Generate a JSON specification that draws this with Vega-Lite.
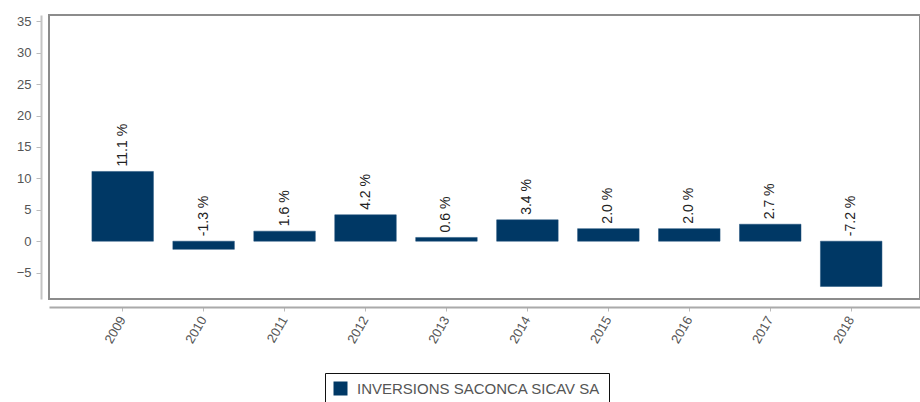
{
  "$schema": "https://vega.github.io/schema/vega-lite/v6.json",
  "autosize": {"type": "none"},
  "padding": {"left": 49, "top": 15, "right": 0, "bottom": 103},
  "width": 871,
  "height": 284,
  "background": "white",
  "config": {
    "view": {"stroke": "#8c8c8c", "strokeWidth": 2},
    "font": "Liberation Sans"
  },
  "data": {
    "values": [
      {"year": "2009", "v": 11.1, "label": "11.1 %"},
      {"year": "2010", "v": -1.3, "label": "-1.3 %"},
      {"year": "2011", "v": 1.6, "label": "1.6 %"},
      {"year": "2012", "v": 4.2, "label": "4.2 %"},
      {"year": "2013", "v": 0.6, "label": "0.6 %"},
      {"year": "2014", "v": 3.4, "label": "3.4 %"},
      {"year": "2015", "v": 2.0, "label": "2.0 %"},
      {"year": "2016", "v": 2.0, "label": "2.0 %"},
      {"year": "2017", "v": 2.7, "label": "2.7 %"},
      {"year": "2018", "v": -7.2, "label": "-7.2 %"}
    ]
  },
  "encoding": {
    "x": {
      "field": "year",
      "type": "nominal",
      "sort": null,
      "scale": {"paddingInner": 0.24, "paddingOuter": 0.5, "align": 0.53},
      "axis": {
        "title": null,
        "offset": 8,
        "labelAngle": -60,
        "labelFontSize": 13,
        "labelColor": "#555555",
        "labelPadding": 6,
        "domainColor": "#aaaaaa",
        "domainWidth": 2,
        "tickColor": "#bbbbbb",
        "tickSize": 4
      }
    }
  },
  "layer": [
    {
      "mark": {"type": "bar", "stroke": "#1d4f7a", "strokeWidth": 0.5},
      "encoding": {
        "y": {
          "field": "v",
          "type": "quantitative",
          "scale": {"domain": [-9.2, 36], "nice": false, "zero": false},
          "axis": {
            "title": null,
            "offset": 8,
            "values": [-5, 0, 5, 10, 15, 20, 25, 30, 35],
            "tickCount": 20,
            "labelOverlap": false,
            "labelFlush": false,
            "grid": false,
            "labelFontSize": 13,
            "labelColor": "#555555",
            "labelPadding": 5,
            "domainColor": "#c4c4c4",
            "domainWidth": 2,
            "tickColor": "#bbbbbb",
            "tickSize": 5
          }
        },
        "color": {
          "datum": "INVERSIONS SACONCA SICAV SA",
          "scale": {"range": ["#003865"]},
          "legend": {
            "title": null,
            "orient": "none",
            "legendX": 276,
            "legendY": 358,
            "strokeColor": "#111111",
            "padding": 8,
            "symbolType": "square",
            "symbolSize": 196,
            "symbolStrokeWidth": 0,
            "symbolOpacity": 1,
            "labelFontSize": 15,
            "labelLimit": 500,
            "labelColor": "#555555",
            "labelOffset": 9
          }
        }
      }
    },
    {
      "transform": [{"filter": "datum.v >= 0"}],
      "mark": {"type": "text", "angle": 270, "align": "left", "baseline": "middle", "dx": 5, "fontSize": 14, "color": "#222222"},
      "encoding": {
        "y": {"field": "v", "type": "quantitative"},
        "text": {"field": "label"}
      }
    },
    {
      "transform": [{"filter": "datum.v < 0"}],
      "mark": {"type": "text", "angle": 270, "align": "left", "baseline": "middle", "dx": 5, "fontSize": 14, "color": "#222222"},
      "encoding": {
        "y": {"datum": 0, "type": "quantitative"},
        "text": {"field": "label"}
      }
    }
  ]
}
